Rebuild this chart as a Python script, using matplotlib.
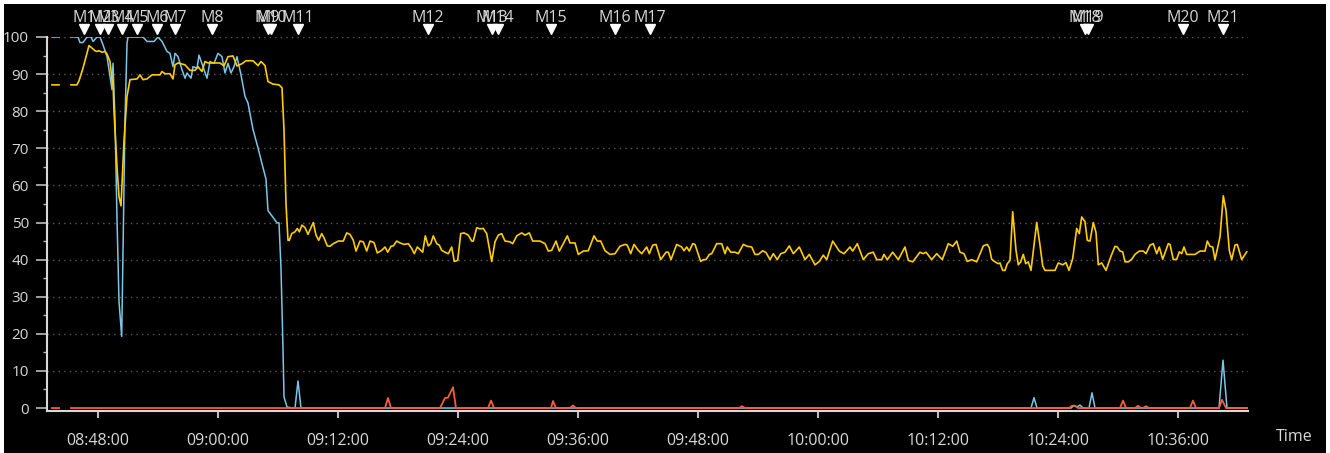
import numpy as np
import pandas as pd
import matplotlib
matplotlib.use("Agg")
import matplotlib.pyplot as plt
import matplotlib.dates as mdates
from matplotlib.patches import Rectangle
import matplotlib.transforms as mtransforms

# tiempos en minutos desde las 08:48:00
base = pd.Timestamp("2024-01-01 08:48:00")

amarillo_t = [-4.6, -3.9, -3.4, -2.7, -2.1, -1.9, -1.5, -0.9, -0.6, -0.3, -0.1, 0.1, 0.4, 0.7, 0.9, 1.2, 1.4, 1.5,
              1.6, 1.9, 2.1, 2.3, 2.6, 2.9, 3.2, 3.9, 4.2, 4.5, 4.9, 5.4, 6.2, 6.4, 6.7, 7.2, 7.5, 7.7, 8.0, 8.7,
              9.2, 9.7, 10.0, 10.4, 10.7, 11.0, 12.2, 12.6, 13.0, 13.5, 13.9, 14.4, 14.8, 15.5, 16.0, 16.3, 16.7,
              17.0, 17.5, 18.1, 18.4, 18.6, 18.8, 19.0,
              19.13, 19.37, 19.7, 19.93, 20.13, 20.4, 20.7, 21.0, 21.53, 21.8, 22.07, 22.37, 22.6, 22.93, 23.2,
              23.53, 24.03, 24.53, 24.87, 25.2, 25.53, 25.8, 26.2, 26.53, 26.87, 27.2, 27.6, 27.93, 28.37, 28.7,
              28.97, 29.3, 29.53, 29.87, 30.2, 30.6, 31.03, 31.37, 31.63, 31.93, 32.27, 32.47, 32.73, 33.03, 33.27,
              33.53, 33.87, 34.13, 34.37, 34.7, 35.03, 35.37, 35.63, 35.97, 36.27, 36.6, 37.03, 37.37, 37.53, 37.87,
              38.2, 38.53, 38.87, 39.37, 39.7, 40.03, 40.37, 40.7, 41.2, 41.47, 41.87,
              42.37, 42.7, 43.13, 43.47, 44.2, 44.7, 45.03, 45.37, 45.8, 46.13, 46.53, 46.93, 47.2, 47.7, 48.03,
              48.53, 49.03, 49.6, 49.93, 50.27, 50.7, 51.2, 51.7, 52.2, 52.7, 52.93, 53.27, 53.6, 54.03, 54.37,
              54.87, 55.13, 55.47, 55.8, 56.27, 56.8, 57.03, 57.3, 57.87, 58.37, 58.6, 58.87, 59.13, 59.47, 59.7,
              60.27, 60.53, 60.8, 61.13, 61.37, 61.87, 62.37, 62.7, 62.93, 63.27, 63.7, 64.03, 64.53, 64.93,
              65.37, 65.7, 66.03, 66.47, 66.8, 67.2, 67.53, 67.93, 68.27, 68.7, 69.13, 69.53, 70.13, 70.7, 71.13,
              71.7, 72.13, 72.53, 72.87, 73.47, 74.13, 74.6, 75.2, 75.47, 75.93, 76.53, 77.03, 77.53, 77.87, 78.37,
              78.6, 78.93, 79.47, 80.03, 80.7, 81.03, 81.47, 82.2, 82.53, 82.8, 83.37, 83.87, 84.43, 85.03, 85.47,
              85.87, 86.2, 86.6, 86.93, 87.37, 87.87, 88.53, 88.93,
              89.13, 89.37, 89.7, 90.03, 90.2, 90.47, 90.7, 90.93, 91.2, 91.47, 91.8, 92.03, 92.27, 92.53, 92.77,
              93.03, 93.3, 93.87, 94.2, 94.47, 94.7, 95.7, 96.03, 96.47, 96.8, 97.1, 97.47, 97.87, 98.13, 98.37,
              98.7, 98.93, 99.2, 99.53, 99.8, 100.03, 100.37, 100.8, 101.27, 101.7, 101.93, 102.2, 102.47, 102.7,
              103.03, 103.37, 103.7, 104.13, 104.53, 104.8, 105.2, 105.53, 105.87, 106.13, 106.47, 107.03, 107.2,
              107.53, 107.87, 108.13, 108.37, 108.6, 108.87, 109.7, 110.2, 110.7, 110.93, 111.2, 111.47, 111.7,
              112.2, 112.53, 112.8, 113.13, 113.37, 113.7, 113.93, 114.37, 114.87]
amarillo_v = [87.1, 87.1, np.nan, 87.1, 87.1, 88.2, 91.6, 97.7, 97.0, 96.3, 96.1, 96.3, 95.9, 96.1, 95.4, 93.4, 88.5, 88.0,
              80.0, 65.0, 57.0, 54.5, 72.0, 84.0, 88.5, 88.7, 89.8, 88.5, 88.7, 89.8, 89.8, 90.7, 90.1, 90.1, 88.7, 92.5, 93.0, 92.5,
              91.0, 91.0, 92.0, 90.7, 93.4, 93.0, 93.0, 92.2, 94.7, 94.9, 92.2, 92.8, 93.6, 93.6, 92.3, 93.4, 92.3,
              88.0, 87.3, 87.1, 86.3, 75.0, 55.0, 45.2,
              45.2, 47.0, 47.5, 48.4, 47.5, 49.3, 48.6, 46.8, 50.0, 46.6, 45.2, 47.0, 45.9, 43.7, 43.6,
              44.3, 45.0, 45.0, 47.2, 46.8, 45.2, 42.3, 45.0, 44.8, 42.3, 45.0, 44.6, 41.8, 42.5, 43.4,
              42.0, 43.6, 43.7, 45.0, 44.5, 44.1, 44.3, 43.0, 41.6, 43.4, 42.5, 42.0, 46.4, 43.7, 44.3,
              46.4, 44.3, 43.9, 42.5, 42.0, 41.6, 43.4, 39.5, 39.8, 47.0, 47.2, 46.6, 45.0, 45.0, 48.6,
              48.3, 48.4, 47.0, 39.5, 44.8, 46.6, 47.0, 45.0, 44.8, 44.3, 46.4,
              47.2, 46.6, 47.2, 45.0, 45.0, 44.3, 42.3, 42.5, 45.0, 42.3, 44.3, 46.4, 44.5, 44.5, 41.4,
              42.3, 42.4, 46.4, 45.0, 45.0, 42.4, 41.4, 41.6, 43.6, 44.1, 43.9, 41.6, 44.1, 42.5, 41.6,
              43.4, 41.6, 43.9, 44.1, 40.0, 42.0, 42.0, 40.0, 44.1, 43.4, 42.4, 43.4, 42.3, 44.3, 44.1,
              39.5, 40.0, 40.0, 41.4, 41.6, 44.3, 44.3, 41.6, 43.4, 42.0, 42.0, 41.6, 44.1, 43.6,
              43.4, 41.4, 41.4, 42.4, 41.9, 40.0, 41.6, 40.0, 41.6, 42.0, 43.7, 41.6, 43.4, 40.0, 41.4,
              38.6, 39.5, 41.2, 40.0, 45.0, 42.3, 41.6, 43.4, 42.3, 44.3, 40.0, 41.6, 42.0, 40.0, 40.0,
              41.4, 40.0, 42.0, 40.0, 43.4, 39.8, 39.4, 42.0, 41.6, 42.0, 40.0, 41.6, 40.0, 44.3, 43.6,
              45.0, 42.0, 41.6, 39.5, 40.0, 39.4, 43.7, 44.1,
              43.2, 40.1, 39.4, 38.9, 39.1, 37.1, 37.1, 38.9, 39.8, 52.9, 42.5, 38.6, 39.4, 41.4, 38.9,
              39.4, 37.1, 50.0, 43.9, 38.3, 37.1, 37.1, 39.1, 38.6, 39.2, 37.1, 40.3, 48.4, 47.0, 51.5,
              50.2, 45.2, 45.0, 50.0, 47.3, 38.6, 39.1, 37.1, 40.7, 43.6, 43.4, 42.3, 42.1, 39.4,
              39.4, 40.1, 41.4, 42.3, 42.3, 41.6, 43.9, 44.3, 41.6, 43.4, 40.1, 44.3, 44.1,
              40.0, 40.1, 42.1, 41.6, 43.4, 41.4, 41.4, 42.3, 42.3, 45.0, 43.6, 43.4, 40.0,
              46.1, 57.2, 53.3, 42.5, 40.0, 43.9, 44.1, 40.0, 42.1]

azul_t = [-4.6, -3.9, -3.4, -2.7, -2.0, -1.8, -1.5, -1.1, -0.7, -0.5, -0.1, 0.2, 0.5, 0.9, 1.1, 1.4, 1.5, 1.7, 1.9,
          2.1, 2.37, 2.5, 2.7, 2.9, 3.0, 4.5, 4.9, 5.6, 6.0, 6.4, 6.9, 7.2, 7.5, 7.7, 8.0, 8.4, 8.7, 8.9, 9.3,
          9.5, 9.9, 10.1, 10.5, 10.9, 11.2, 11.6, 12.0, 12.4, 12.7, 13.0, 13.3, 13.6, 13.9, 14.3, 14.7, 15.0,
          15.5, 16.0, 16.5, 16.8, 17.0, 17.5, 17.9, 18.1, 18.3, 18.5, 18.6, 18.9, 19.4, 19.7, 20.0, 20.3,
          93.3, 93.6, 93.9, 97.3, 97.6, 97.9, 98.2, 98.5, 99.1, 99.4, 99.7, 112.1, 112.5, 112.9, 114.9]
azul_v = [100, 100, np.nan, 100, 100, 98.5, 98.5, 100, 100, 98.8, 100, 100, 97.9, 94.7, 91.2, 85.8, 92.9, 77.8, 51.0,
          28.7, 19.3, 42.0, 77.8, 98.3, 100, 100, 98.8, 98.8, 100, 98.8, 96.1, 95.6, 92.0, 95.6, 94.7, 91.2, 88.9, 90.3, 88.9,
          92.0, 91.6, 95.1, 92.0, 88.9, 93.4, 92.9, 95.6, 94.7, 90.3, 92.9, 90.3, 92.0, 94.7, 89.8, 84.0, 82.2,
          75.1, 70.1, 64.8, 61.7, 53.2, 51.4, 49.9, 49.9, 37.6, 16.0, 3.0, 0.3, 0.0, 0.0, 7.3, 0.0,
          0.0, 2.8, 0.0, 0.0, 0.7, 0.3, 0.8, 0.0, 0.0, 4.1, 0.0, 0.0, 12.9, 0.0, 0.0]

rojo_t = [-4.6, -3.9, -3.4, -2.7, 28.7, 29.0, 29.3, 34.2, 34.7, 35.0, 35.5, 35.8, 39.0, 39.3, 39.6, 45.3, 45.5, 45.8,
          47.2, 47.5, 47.8, 64.1, 64.4, 64.7, 97.1, 97.4, 97.7, 98.0, 102.2, 102.5, 102.8, 103.7, 104.0, 104.3,
          104.5, 104.8, 105.1, 109.2, 109.5, 109.8, 112.1, 112.4, 112.8, 114.9]
rojo_v = [0, 0, np.nan, 0, 0, 2.7, 0, 0, 2.7, 2.8, 5.6, 0, 0, 2.0, 0, 0, 1.9, 0,
          0, 0.7, 0, 0, 0.5, 0, 0, 0.6, 0.6, 0, 0, 2.0, 0, 0, 0.6, 0,
          0, 0.5, 0, 0, 2.0, 0, 0, 2.2, 0, 0]

marcas = ["M%d" % i for i in range(1, 22)]
marcas_t = [-1.4, 0.2, 1.0, 2.4, 3.9, 5.9, 7.7, 11.4, 17.0, 17.3, 20.0, 33.0, 39.4, 40.0, 45.3, 51.7, 55.2,
            98.7, 99.0, 108.5, 112.5]


def a_fecha(minutos):
    return base + pd.to_timedelta(np.array(minutos, dtype=float), unit="m")


W, H = 1330, 453
fig = plt.figure(figsize=(W / 100, H / 100), dpi=100, facecolor="white")
# marco negro dentro del borde blanco
fig.patches.append(Rectangle((4 / W, 0), 1322 / W, 449 / H, transform=fig.transFigure,
                             facecolor="black", edgecolor="none", zorder=-10))

ax = fig.add_axes([47 / W, 42 / H, 1201 / W, 374 / H])
ax.set_zorder(1)
ax.set_facecolor("black")

gris = "#d8d8d8"
ax.plot(a_fecha(azul_t), azul_v, color="#7cc6e8", lw=1.1, zorder=3)
ax.plot(a_fecha(rojo_t), rojo_v, color="#ff5a3c", lw=1.3, zorder=4)
ax.plot(a_fecha(amarillo_t), amarillo_v, color="#ffcc00", lw=1.2, zorder=5)

ax.set_ylim(-0.8, 100)
ax.set_xlim(a_fecha([-5.1])[0], a_fecha([115.0])[0])

ax.set_yticks(np.arange(0, 101, 10))
ax.set_yticks(np.arange(5, 100, 10), minor=True)
ax.xaxis.set_major_locator(mdates.MinuteLocator(byminute=[0, 12, 24, 36, 48]))
ax.xaxis.set_major_formatter(mdates.DateFormatter("%H:%M:%S"))

for y in range(10, 101, 10):
    ax.axhline(y, color="#5a5a5a", lw=1.0, ls=(0, (1, 3)), zorder=1)

for lado in ["top", "right"]:
    ax.spines[lado].set_visible(False)
for lado in ["left", "bottom"]:
    ax.spines[lado].set_color(gris)
    ax.spines[lado].set_linewidth(1.5)

ax.tick_params(axis="y", which="major", length=8, width=1.2, color="#bbbbbb", labelcolor=gris,
               labelsize=11, pad=5)
ax.tick_params(axis="y", which="minor", length=3, width=1.0, color="#bbbbbb")
ax.tick_params(axis="x", which="major", length=5, width=1.5, color="#bbbbbb", labelcolor=gris,
               labelsize=11.5, pad=11)
for lab in ax.get_xticklabels() + ax.get_yticklabels():
    lab.set_family("Open Sans")

fig.text(1294 / W, 1 - 437 / H, "Time", color=gris, fontsize=11.5, family="Open Sans",
         ha="center", va="center")

# marcadores M1..M21 arriba del grafico
trans = mtransforms.blended_transform_factory(ax.transData, ax.transAxes)
ax.plot(a_fecha(marcas_t), [1.0214] * len(marcas_t), "v", color="white", markersize=7,
        transform=trans, clip_on=False, zorder=6)
for nombre, t in zip(marcas, marcas_t):
    ax.text(a_fecha([t])[0], 1.05, nombre, transform=trans, color=gris, fontsize=11.5,
            family="Open Sans", ha="center", va="center", clip_on=False)

fig.savefig("out.png", dpi=100, facecolor="white")
